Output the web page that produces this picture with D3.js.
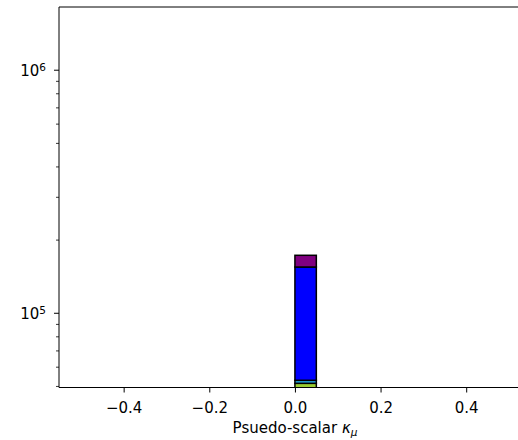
<!DOCTYPE html>
<html><head><meta charset="utf-8">
<script src="https://cdn.jsdelivr.net/npm/d3@7"></script>
<style>
body{margin:0;background:#fff;}
text{font-family:"DejaVu Sans",sans-serif;fill:#000;}
</style></head>
<body><svg id="c" width="518" height="440"></svg>
<script>
const binEdges = [0.0, 0.05];
const layerNames = ["green", "cyan", "blue", "purple"];
const layerValues = [51500, 1500, 102000, 18200];
const layerColors = ["#9acd32", "#1e9fd9", "#0000ff", "#800080"];
const xTicks = [-0.4, -0.2, 0.0, 0.2, 0.4];
const xTickLabels = ["\u22120.4", "\u22120.2", "0.0", "0.2", "0.4"];
const yMajor = [1e5, 1e6];
const yMajorExp = ["5", "6"];
const xDomain = [-0.551, 0.521];
const yDomain = [4.95e4, 1.82e6];

const svg = d3.select("#c");
const L = 59, R = 518, T = 7, B = 387.5;
const FS = "15px";
const x = d3.scaleLinear().domain(xDomain).range([L, R]);
const y = d3.scaleLog().domain(yDomain).range([B, T]);

svg.append("clipPath").attr("id","clip").append("rect")
  .attr("x", L).attr("y", T).attr("width", R - L).attr("height", B - T);

// stacked bars
let cum = 0;
const segs = layerValues.map((v, i) => { const s = {y0: cum, y1: cum + v, c: layerColors[i], n: layerNames[i]}; cum += v; return s; });
const g = svg.append("g").attr("clip-path", "url(#clip)");
g.selectAll("rect.seg").data(segs).join("rect")
  .attr("class","seg")
  .attr("x", x(binEdges[0]))
  .attr("width", x(binEdges[1]) - x(binEdges[0]))
  .attr("y", d => y(d.y1))
  .attr("height", d => (d.y0 <= 0 ? B + 5 : y(d.y0)) - y(d.y1))
  .attr("fill", d => d.c)
  .attr("stroke", "#000").attr("stroke-width", 1.5);

// spines
svg.append("line").attr("x1", L).attr("x2", L).attr("y1", T).attr("y2", B).attr("stroke","#000").attr("stroke-width",1);
svg.append("line").attr("x1", L).attr("x2", R).attr("y1", T).attr("y2", T).attr("stroke","#000").attr("stroke-width",1);
svg.append("line").attr("x1", L).attr("x2", R).attr("y1", B).attr("y2", B).attr("stroke","#000").attr("stroke-width",1);

// x axis
const xa = svg.append("g").attr("transform", `translate(0,${B})`)
  .call(d3.axisBottom(x).tickValues(xTicks).tickSize(5).tickPadding(4).tickFormat((d,i) => xTickLabels[i]));
xa.select(".domain").remove();
xa.selectAll("text").attr("dy", null).attr("y", 25.2).style("font-size", FS).style("font-family","DejaVu Sans");
xa.selectAll("line").attr("stroke-width",1);

// y axis major + minor
const minor = [];
for (let e = 4; e <= 6; e++) for (let m = 2; m <= 9; m++) { const v = m * Math.pow(10, e); if (v >= yDomain[0] && v <= yDomain[1]) minor.push(v); }
svg.append("g").selectAll("line").data(minor).join("line")
  .attr("x1", L - 3).attr("x2", L).attr("y1", d => y(d)).attr("y2", d => y(d)).attr("stroke","#000").attr("stroke-width",0.8);
svg.append("g").selectAll("line").data(yMajor).join("line")
  .attr("x1", L - 5).attr("x2", L).attr("y1", d => y(d)).attr("y2", d => y(d)).attr("stroke","#000").attr("stroke-width",1);
const yl = svg.append("g").selectAll("text").data(yMajor).join("text")
  .attr("x", 46).attr("y", d => y(d) + 6).attr("text-anchor","end").style("font-size", FS);
yl.append("tspan").text("10");
yl.append("tspan").attr("dy", -5.5).style("font-size","10.5px").text((d,i) => yMajorExp[i]);

// x label
const xl = svg.append("text").attr("x", 295).attr("y", 433.3).attr("text-anchor","middle").style("font-size", FS);
xl.append("tspan").text("Psuedo-scalar ");
xl.append("tspan").style("font-style","italic").text("\u03ba");
xl.append("tspan").attr("dy", 3).style("font-size","10.5px").style("font-style","italic").text("\u03bc");
</script></body></html>
